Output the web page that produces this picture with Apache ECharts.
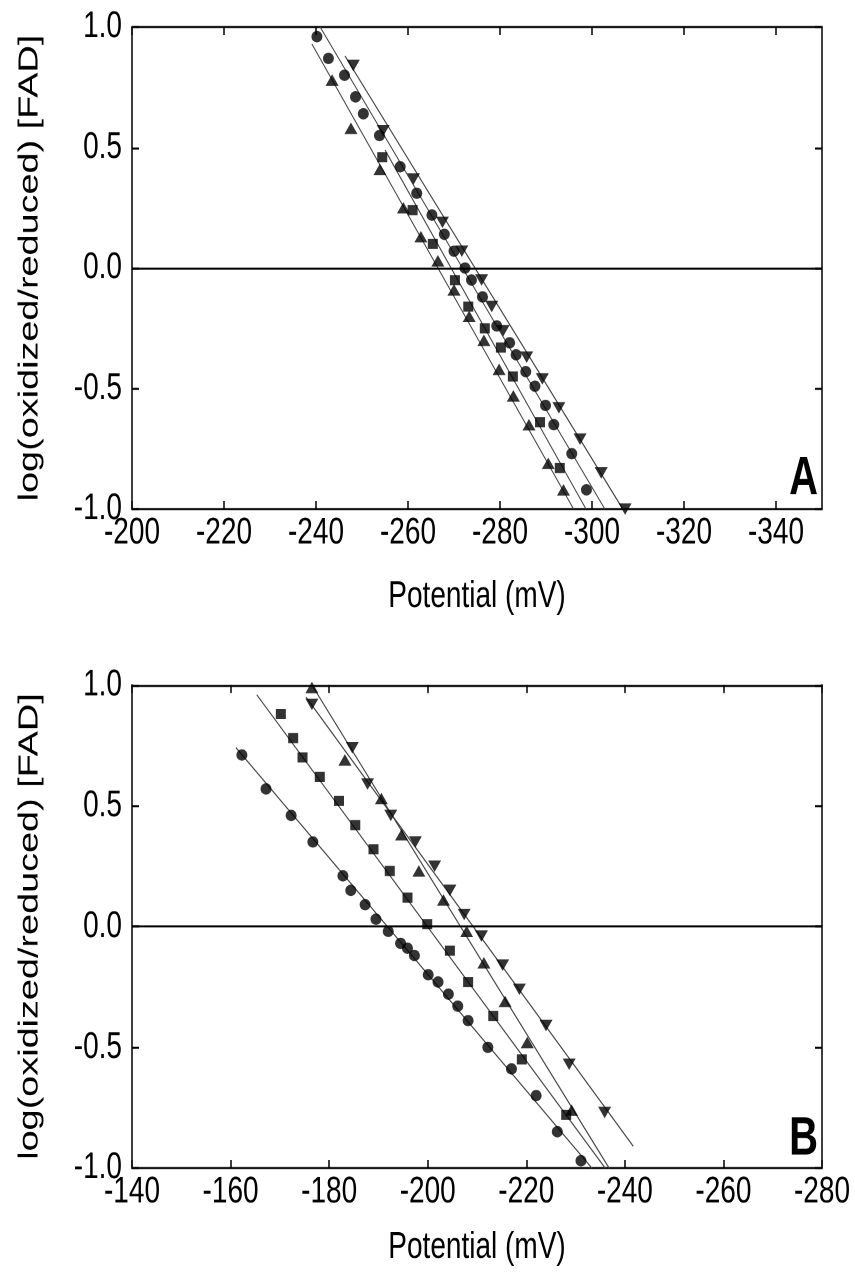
<!DOCTYPE html>
<html>
<head>
<meta charset="utf-8">
<title>FAD redox titration</title>
<script src="https://cdn.jsdelivr.net/npm/echarts@6/dist/echarts.min.js"></script>
<style>
html,body{margin:0;padding:0;background:#fff}
#wrap{width:855px;height:1272px;overflow:hidden;position:relative}
/* the reference is stretched vertically, so draw short and stretch */
#chart{position:absolute;left:0;top:0;width:855px;height:942px;transform:scaleY(1.3503);transform-origin:0 0}
</style>
</head>
<body>
<div id="wrap"><div id="chart"></div></div>
<script>
// ---- panel A data (Potential mV, log(ox/red)) ----
var aCircle = [[-240.2,0.96],[-242.7,0.87],[-246.2,0.80],[-248.6,0.71],[-250.3,0.64],[-253.8,0.55],[-258.3,0.42],[-261.9,0.31],[-265.2,0.22],[-267.9,0.14],[-270.0,0.07],[-272.4,0.00],[-273.8,-0.05],[-276.2,-0.12],[-279.3,-0.24],[-282.1,-0.31],[-283.5,-0.36],[-285.6,-0.43],[-287.6,-0.49],[-289.9,-0.57],[-291.7,-0.65],[-295.6,-0.77],[-298.8,-0.92]];
var aSquare = [[-254.4,0.46],[-261.0,0.24],[-265.4,0.10],[-270.2,-0.05],[-273.1,-0.16],[-276.7,-0.25],[-280.2,-0.33],[-282.8,-0.45],[-288.7,-0.64],[-293.0,-0.83]];
var aTriUp = [[-243.5,0.78],[-247.6,0.58],[-253.9,0.41],[-259.0,0.25],[-262.8,0.13],[-266.5,0.03],[-270.0,-0.09],[-273.3,-0.20],[-276.5,-0.30],[-279.8,-0.42],[-282.9,-0.53],[-286.3,-0.65],[-290.5,-0.81],[-293.8,-0.92]];
var aTriDown = [[-248.1,0.84],[-254.6,0.57],[-261.2,0.37],[-267.5,0.19],[-271.7,0.07],[-276.0,-0.05],[-278.2,-0.16],[-280.7,-0.26],[-285.8,-0.37],[-289.2,-0.46],[-292.8,-0.58],[-297.4,-0.71],[-302.0,-0.85],[-307.2,-1.00]];
// fitted lines, end points
var aFitCircle = [[-240.9,1.00],[-302.8,-1.00]];
var aFitSquare = [[-255.0,0.49],[-298.7,-1.00]];
var aFitTriUp = [[-239.1,0.93],[-296.0,-1.00]];
var aFitTriDown = [[-246.3,0.88],[-306.7,-1.00]];

// ---- panel B data ----
var bCircle = [[-162.3,0.71],[-167.2,0.57],[-172.3,0.46],[-176.7,0.35],[-182.8,0.21],[-184.4,0.15],[-187.3,0.09],[-189.5,0.03],[-192.0,-0.02],[-194.5,-0.07],[-195.9,-0.09],[-197.3,-0.12],[-200.1,-0.20],[-202.1,-0.23],[-204.2,-0.28],[-206.1,-0.33],[-208.2,-0.39],[-212.2,-0.50],[-217.0,-0.59],[-222.0,-0.70],[-226.3,-0.85],[-231.1,-0.97]];
var bSquare = [[-170.2,0.88],[-172.7,0.78],[-174.6,0.70],[-178.1,0.62],[-182.0,0.52],[-185.3,0.42],[-189.0,0.32],[-192.3,0.23],[-195.9,0.12],[-199.9,0.01],[-204.5,-0.10],[-208.2,-0.23],[-213.3,-0.37],[-219.1,-0.55],[-228.1,-0.78]];
var bTriUp = [[-176.5,0.99],[-183.2,0.69],[-190.6,0.53],[-194.7,0.38],[-198.2,0.23],[-203.2,0.11],[-207.9,-0.02],[-211.4,-0.15],[-215.7,-0.31],[-220.2,-0.48],[-229.2,-0.76]];
var bTriDown = [[-176.5,0.92],[-184.7,0.74],[-187.8,0.59],[-192.5,0.46],[-197.5,0.35],[-201.4,0.25],[-204.5,0.15],[-207.4,0.05],[-210.9,-0.04],[-215.2,-0.16],[-218.6,-0.26],[-224.0,-0.41],[-228.7,-0.57],[-235.9,-0.77]];
var bFitCircle = [[-161.1,0.74],[-233.3,-1.00]];
var bFitSquare = [[-165.3,0.96],[-236.0,-1.00]];
var bFitTriUp = [[-176.5,1.00],[-236.8,-1.00]];
var bFitTriDown = [[-175.3,0.95],[-241.7,-0.91]];

// ---- tick labels ----
var aXTicks = [-200,-220,-240,-260,-280,-300,-320,-340];
var bXTicks = [-140,-160,-180,-200,-220,-240,-260,-280];

var FONT = 'Liberation Sans, Arial, Helvetica, sans-serif';

var chart = echarts.init(document.getElementById('chart'), null, {devicePixelRatio: 2});

function xAxes(grid, min, max, ticks, gap) {
	var base = {
		gridIndex: grid, type: 'value', min: min, max: max, inverse: true,
		axisLine: {onZero: false, lineStyle: {color: '#000', width: 1.5}},
		axisTick: {inside: true, length: 6, customValues: ticks, lineStyle: {color: '#000', width: 1.5}},
		splitLine: {show: false}
	};
	var bottom = echarts.util.merge({
		position: 'bottom',
		name: 'Potential (mV)', nameLocation: 'middle', nameGap: gap,
		nameTextStyle: {color: '#000', fontFamily: FONT, fontSize: 28},
		axisLabel: {customValues: ticks, margin: 4, color: '#000', fontFamily: FONT, fontSize: 28,
			formatter: function(v){ return String(v); }}
	}, base, true);
	var top = echarts.util.merge({position: 'top', axisLabel: {show: false}}, base, true);
	return [bottom, top];
}

function yAxes(grid) {
	var base = {
		gridIndex: grid, type: 'value', min: -1, max: 1, interval: 0.5,
		axisLine: {onZero: false, lineStyle: {color: '#000', width: 1.5}},
		axisTick: {inside: true, length: 7, lineStyle: {color: '#000', width: 1.5}},
		splitLine: {show: false}
	};
	var left = echarts.util.merge({
		position: 'left',
		name: 'log(oxidized/reduced) [FAD]', nameLocation: 'middle', nameGap: 88,
		nameTextStyle: {color: '#000', fontFamily: FONT, fontSize: 28},
		axisLabel: {margin: 10, color: '#000', fontFamily: FONT, fontSize: 28,
			formatter: function(v){ return v.toFixed(1); }}
	}, base, true);
	var right = echarts.util.merge({position: 'right', axisLabel: {show: false}}, base, true);
	return [left, right];
}

function dots(data, xi, symbol, size, rotate) {
	return {
		type: 'scatter', xAxisIndex: xi, yAxisIndex: xi, data: data,
		symbol: symbol, symbolSize: size, symbolRotate: rotate || 0,
		itemStyle: {color: '#000'}, z: 5, silent: true
	};
}

function fit(data, xi) {
	return {
		type: 'line', xAxisIndex: xi, yAxisIndex: xi, data: data,
		symbol: 'none', lineStyle: {color: '#444', width: 1}, z: 3, silent: true
	};
}

function zeroLine(xi) {
	return {
		type: 'line', xAxisIndex: xi, yAxisIndex: xi, data: [], silent: true,
		markLine: {silent: true, symbol: ['none','none'], label: {show: false},
			lineStyle: {color: '#000', width: 1.5, type: 'solid'}, data: [{yAxis: 0}]}
	};
}

var CIRC = [11, 8.5], SQ = [10, 7.5], TRI = [13, 8.5];

var option = {
	backgroundColor: '#fff',
	animation: false,
	grid: [
		{left: 132, top: 20, width: 690, height: 357},
		{left: 132, top: 507.3, width: 690, height: 357.7}
	],
	xAxis: xAxes(0, -350, -200, aXTicks, 51).concat(xAxes(1, -280, -140, bXTicks, 45)),
	yAxis: yAxes(0).concat(yAxes(1)),
	graphic: [
		{type: 'text', x: 818, y: 375, style: {text: 'A', font: 'bold 40px ' + FONT, fill: '#000', align: 'right', verticalAlign: 'bottom'}},
		{type: 'text', x: 818, y: 864, style: {text: 'B', font: 'bold 40px ' + FONT, fill: '#000', align: 'right', verticalAlign: 'bottom'}}
	],
	series: [
		zeroLine(0),
		fit(aFitCircle, 0), fit(aFitSquare, 0), fit(aFitTriUp, 0), fit(aFitTriDown, 0),
		dots(aCircle, 0, 'circle', CIRC),
		dots(aSquare, 0, 'rect', SQ),
		dots(aTriUp, 0, 'triangle', TRI),
		dots(aTriDown, 0, 'triangle', TRI, 180),
		zeroLine(2),
		fit(bFitCircle, 2), fit(bFitSquare, 2), fit(bFitTriUp, 2), fit(bFitTriDown, 2),
		dots(bCircle, 2, 'circle', CIRC),
		dots(bSquare, 2, 'rect', SQ),
		dots(bTriUp, 2, 'triangle', TRI),
		dots(bTriDown, 2, 'triangle', TRI, 180)
	]
};

chart.setOption(option);
</script>
</body>
</html>
